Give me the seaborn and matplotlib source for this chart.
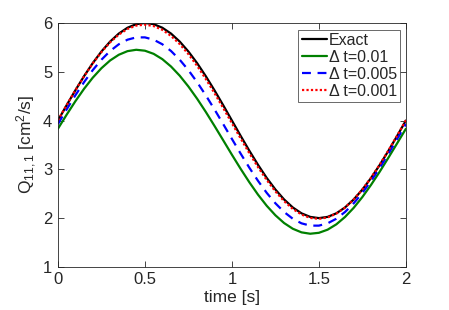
import matplotlib
matplotlib.use("Agg")
import matplotlib.pyplot as plt
import seaborn as sns
import pandas as pd
import numpy as np

time = [round(0.05 * i, 2) for i in range(41)]

exact = [4.000, 4.313, 4.618, 4.908, 5.176, 5.414, 5.618, 5.782, 5.902, 5.975,
         6.000, 5.975, 5.902, 5.782, 5.618, 5.414, 5.176, 4.908, 4.618, 4.313,
         4.000, 3.687, 3.382, 3.092, 2.824, 2.586, 2.382, 2.218, 2.098, 2.025,
         2.000, 2.025, 2.098, 2.218, 2.382, 2.586, 2.824, 3.092, 3.382, 3.687,
         4.000]

dt_001 = [3.831, 4.119, 4.394, 4.649, 4.877, 5.072, 5.231, 5.348, 5.422, 5.450,
          5.431, 5.367, 5.258, 5.107, 4.919, 4.697, 4.447, 4.176, 3.889, 3.595,
          3.299, 3.011, 2.736, 2.481, 2.253, 2.058, 1.899, 1.782, 1.708, 1.680,
          1.699, 1.763, 1.872, 2.023, 2.211, 2.433, 2.683, 2.954, 3.241, 3.535,
          3.831]

dt_0005 = [3.927, 4.227, 4.516, 4.786, 5.032, 5.246, 5.425, 5.563, 5.657, 5.704,
           5.704, 5.657, 5.563, 5.425, 5.246, 5.032, 4.786, 4.516, 4.227, 3.927,
           3.623, 3.323, 3.034, 2.764, 2.518, 2.304, 2.125, 1.987, 1.893, 1.846,
           1.846, 1.893, 1.987, 2.125, 2.304, 2.518, 2.764, 3.034, 3.323, 3.623,
           3.927]

dt_0001 = [4.005, 4.316, 4.619, 4.905, 5.169, 5.403, 5.603, 5.762, 5.877, 5.946,
           5.965, 5.936, 5.859, 5.734, 5.567, 5.361, 5.121, 4.851, 4.561, 4.256,
           3.945, 3.634, 3.331, 3.045, 2.781, 2.547, 2.347, 2.188, 2.073, 2.004,
           1.985, 2.014, 2.091, 2.216, 2.383, 2.589, 2.829, 3.099, 3.389, 3.694,
           4.005]

labels = ["Exact", "\u0394 t=0.01", "\u0394 t=0.005", "\u0394 t=0.001"]
x_ticks = [0, 0.5, 1, 1.5, 2]
x_tick_labels = ["0", "0.5", "1", "1.5", "2"]
y_ticks = [1, 2, 3, 4, 5, 6]

sns.set_theme(style="ticks")
plt.rcParams['font.family'] = ['Liberation Sans', 'DejaVu Sans']
plt.rcParams['mathtext.fontset'] = 'custom'
plt.rcParams['mathtext.rm'] = 'Liberation Sans'
plt.rcParams['mathtext.it'] = 'Liberation Sans'

fig = plt.figure(figsize=(4.49, 3.10), dpi=100)
ax = fig.add_axes([0.129, 0.139, 0.775, 0.787])

styles = [
    (exact, "black", "-"),
    (dt_001, "#008000", "-"),
    (dt_0005, "#0000FF", (0, (4, 3))),
    (dt_0001, "#FF0000", (0, (1, 1))),
]
for (vals, col, ls), lab in zip(styles, labels):
    df = pd.DataFrame({"t": time, "q": vals})
    sns.lineplot(data=df, x="t", y="q", ax=ax, color=col, linestyle=ls,
                 linewidth=1.6, label=lab)

ax.set_xlim(0, 2)
ax.set_ylim(1, 6)
ax.set_xticks(x_ticks)
ax.set_xticklabels(x_tick_labels)
ax.set_yticks(y_ticks)
ax.tick_params(direction="in", length=4, width=0.6, top=True, right=True,
               labelsize=12, colors="#262626", pad=4)
for sp in ax.spines.values():
    sp.set_visible(True)
    sp.set_linewidth(0.6)
    sp.set_color("#262626")

ax.set_xlabel("time [s]", fontsize=12.5, color="#262626", labelpad=2)
ax.set_ylabel(r"Q$_{11,1}$ [cm$^2$/s]", fontsize=12.5, color="#262626", labelpad=3)

leg = ax.legend(loc="upper right", bbox_to_anchor=(0.983, 0.972), fontsize=11.5,
                frameon=True, fancybox=False, edgecolor="#262626",
                handlelength=1.6, handletextpad=0.1, labelspacing=0.12,
                borderpad=0.2, borderaxespad=0)
leg.get_frame().set_linewidth(0.6)

fig.savefig("out.png", dpi=100)
